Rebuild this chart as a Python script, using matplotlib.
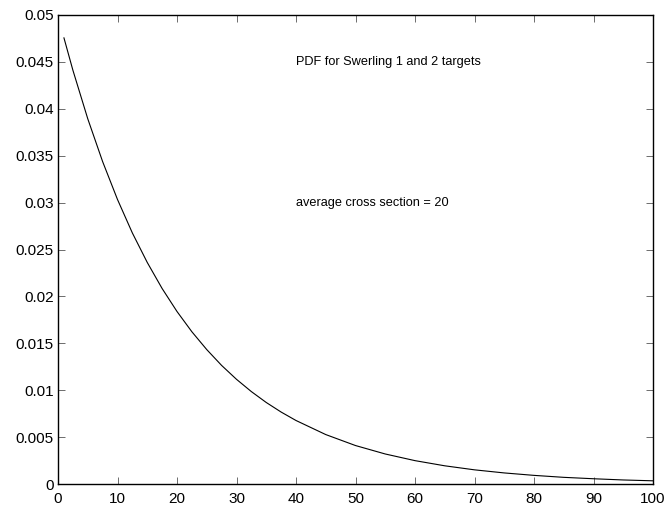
import matplotlib
matplotlib.use("Agg")
import matplotlib.pyplot as plt

# values
sigma = [1, 2.5, 5, 7.5, 10, 12.5, 15, 17.5, 20, 22.5, 25, 27.5, 30, 32.5, 35,
         37.5, 40, 45, 50, 55, 60, 65, 70, 75, 80, 85, 90, 95, 100]
pdf = [0.04756, 0.04412, 0.03894, 0.03437, 0.03033, 0.02676, 0.02362, 0.02084,
       0.01839, 0.01623, 0.01433, 0.01264, 0.01116, 0.00985, 0.00869, 0.00767,
       0.00677, 0.00527, 0.00410, 0.00320, 0.00249, 0.00194, 0.00151, 0.00118,
       0.00092, 0.00071, 0.00056, 0.00043, 0.00034]

xticks = [0, 10, 20, 30, 40, 50, 60, 70, 80, 90, 100]
yticks = [0, 0.005, 0.01, 0.015, 0.02, 0.025, 0.03, 0.035, 0.04, 0.045, 0.05]
ytick_labels = ["0", "0.005", "0.01", "0.015", "0.02", "0.025", "0.03",
                "0.035", "0.04", "0.045", "0.05"]
title_text = "PDF for Swerling 1 and 2 targets"
note_text = "average cross section = 20"

plt.rcParams['font.family'] = ['Liberation Sans', 'DejaVu Sans']

fig = plt.figure(figsize=(6.68, 5.14), dpi=100)
ax = fig.add_axes([58/668, 30/514, 595/668, 469/514])
ax.plot(sigma, pdf, color='black', linewidth=0.8)
ax.set_xlim(0, 100)
ax.set_ylim(0, 0.05)
ax.set_xticks(xticks)
ax.set_xticklabels([str(v) for v in xticks])
ax.set_yticks(yticks)
ax.set_yticklabels(ytick_labels)
ax.tick_params(direction='in', length=5, width=0.6, labelsize=11,
               top=True, right=True, color='#555555')
ax.tick_params(axis='x', pad=6)
ax.tick_params(axis='y', pad=3)
for s in ax.spines.values():
    s.set_linewidth(1.0)
ax.text(40, 0.045, title_text, fontsize=9.2, va='center', ha='left')
ax.text(40, 0.03, note_text, fontsize=9.2, va='center', ha='left')
fig.savefig("out.png", dpi=100)
